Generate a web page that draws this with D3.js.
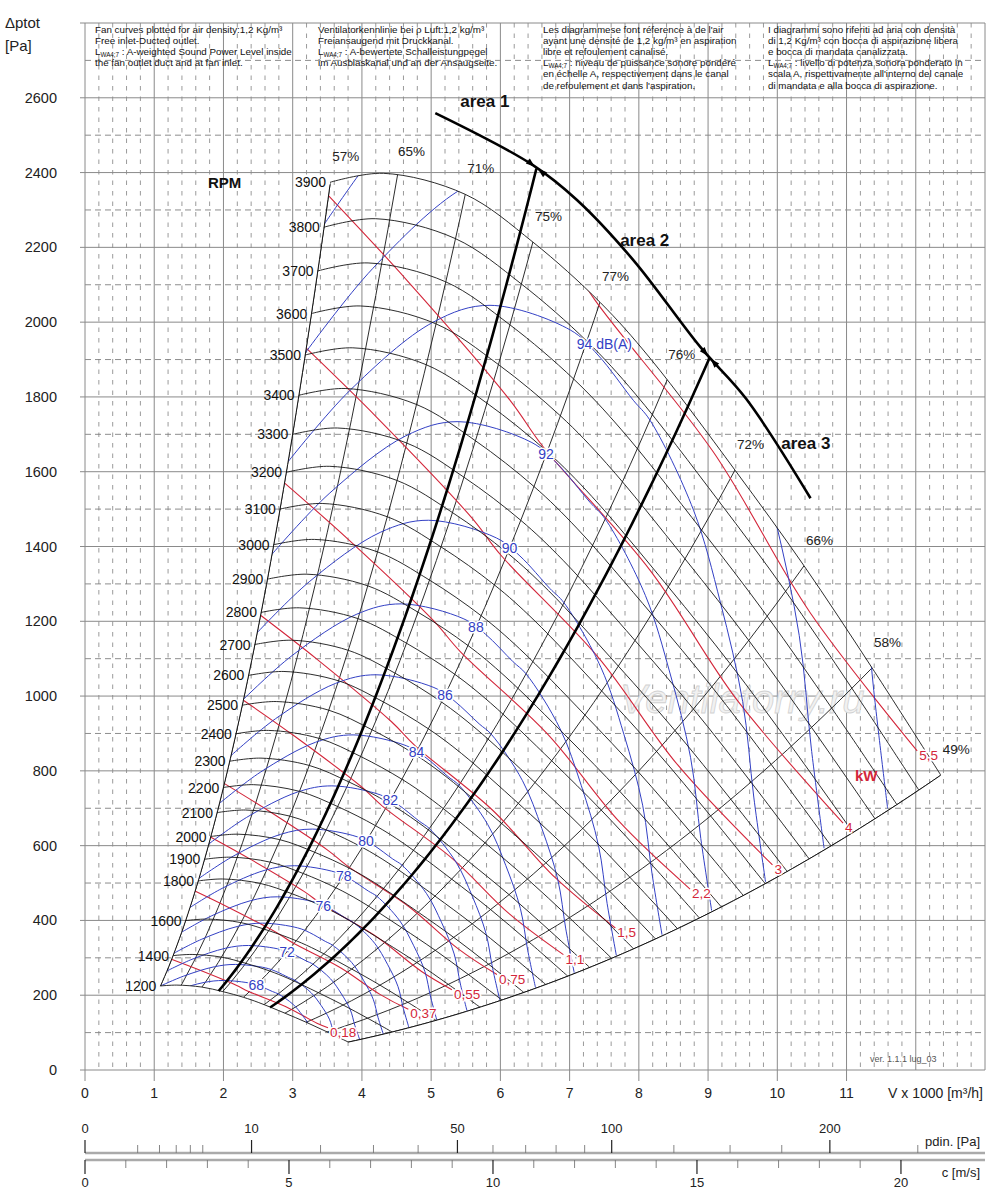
<!DOCTYPE html>
<html>
<head>
<meta charset="utf-8">
<script src="https://cdn.jsdelivr.net/npm/d3@7/dist/d3.min.js"></script>
<style>
  body { margin: 0; background: #fff; }
  svg { display: block; }
  text { font-family: "Liberation Sans", Arial, sans-serif; }
</style>
</head>
<body>
<svg id="chart" width="1000" height="1199"></svg>
<script>
// ---- data ----
// fan speed curves (RPM); the 3900 curve is read point by point, the others follow the fan laws
const rpmList = [1200,1400,1600,1800,1900,2000,2100,2200,2300,2400,2500,2600,2700,2800,2900,3000,3100,3200,3300,3400,3500,3600,3700,3800,3900]
const rpmRef = 3900
const rpmRefCurve = [[3.54,2374],[4.31,2398],[5.49,2342],[6.47,2214],[7.44,2053],[8.16,1904],[9.39,1604],[10.38,1350],[11.37,1075],[12.36,789]]

// efficiency lines (system parabolas p = k * V^2)
const effLabels = ['57%','65%','71%','75%','77%','76%','72%','66%','58%','49%']
const effK = [189,117.4,77.6,52.9,37.1,26.1,18.2,12.5,8.32,5.16]

// sound power level curves dB(A)
const dbLevels = [68,70,72,74,76,78,80,82,84,86,88,90,92,94,96,98]
const dbLabelled = [68,72,76,78,80,82,84,86,88,90,92,94]
const dbRef = 94
const dbRefCurve = [[2.93,1626],[3.83,1818],[5.03,2000],[5.85,2045],[7.01,1979],[7.41,1912],[7.92,1791],[8.16,1738],[8.79,1497],[9.18,1249],[9.5,985],[9.66,730],[9.83,503]]
const dbStep = 1.086   // flow ratio between two curves 2 dB apart

// absorbed power curves kW, with the flow where each drawn line stops
const kwLevels = [0.18,0.37,0.55,0.75,1.1,1.5,2.2,3,4,5.5]
const kwEndV = [3.51,4.67,5.3,5.95,6.91,7.66,8.74,9.93,10.95,12.02]
const kwRef = 4
const kwRefCurve = [[3.51,2340],[4.65,2112],[6.14,1791],[6.62,1666],[8.16,1337],[9.42,989],[10.95,660]]

// working areas
const areaNames = ['area 1','area 2','area 3']
const areaCurve = [[5.06,2559],[6.47,2420],[7.11,2326],[7.92,2166],[8.89,1933],[9.55,1795],[10.48,1529]]
const areaK = [56.7,23.4]

// axes
const xTicks = [0,1,2,3,4,5,6,7,8,9,10,11]
const yTicks = [0,200,400,600,800,1000,1200,1400,1600,1800,2000,2200,2400,2600]
const pdinMajor = [0,10,50,100,200]
const pdinMinor = [1,2,3,4,5,20,30,40,60,70,80,90,125,150,175,250]
const cMajor = [0,5,10,15,20]
const cMinor = [1,2,3,4,6,7,8,9,11,12,13,14,16,17,18,19]

const notes = [
  {x:95, lines:["Fan curves plotted for air density:1,2 Kg/m³","Free inlet-Ducted outlet.","L|WA4;7| : A-weighted Sound Power Level inside","the fan outlet duct and at fan inlet."]},
  {x:318, lines:["Ventilatorkennlinie bei ρ Luft:1,2 kg/m³","Freiansaugend mit Druckkanal.","L|WA4;7| : A-bewertete Schalleistungpegel","im Ausblaskanal und an der Ansaugseite."]},
  {x:543, lines:["Les diagrammese font réference à de l'air","ayant une densité de 1,2 kg/m³ en aspiration","libre et refoulement canalisé.","L|WA4;7| : niveau de puissance sonore pondéré","en échelle A, respectivement dans le canal","de refoulement et dans l'aspiration."]},
  {x:768, lines:["I diagrammi sono riferiti ad aria con densità","di 1,2 Kg/m³ con bocca di aspirazione libera","e bocca di mandata canalizzata.","L|WA4;7| : livello di potenza sonora ponderato in","scala A, rispettivamente all'interno del canale","di mandata e alla bocca di aspirazione."]}
]

// ---- setup ----
const svg = d3.select('#chart')
const x = d3.scaleLinear().domain([0,13]).range([85,985])
const y = d3.scaleLinear().domain([0,2800]).range([1070,23])
const cScale = d3.scaleLinear().domain([0,22.06]).range([85,985])
const pScale = d3.scaleSqrt().domain([0,0.6*22.06*22.06]).range([85,985])

const smooth = d3.line().x(d => x(d[0])).y(d => y(d[1])).curve(d3.curveCatmullRom.alpha(0.5))
const straight = d3.line().x(d => x(d[0])).y(d => y(d[1]))

const BLUE = '#3340c4', RED = '#d3263a', INK = '#151515', GRID = '#8a8a8a'

function scaleCurve(pts, r) { return pts.map(d => [d[0]*r, d[1]*r*r]) }
function parab(k, v0, v1) {
  return d3.range(0, 81).map(i => { const v = v0 + (v1-v0)*i/80; return [v, k*v*v] })
}
function interpAt(pts, v) {
  if (v < pts[0][0] || v > pts[pts.length-1][0]) return null
  for (let i = 0; i < pts.length-1; i++) {
    const a = pts[i], b = pts[i+1]
    if (v >= a[0] && v <= b[0]) return a[1] + (b[1]-a[1])*(v-a[0])/(b[0]-a[0])
  }
  return null
}
function cutAt(pts, v) {
  const kept = pts.filter(d => d[0] < v)
  const p = interpAt(pts, v)
  if (p !== null) kept.push([v, p])
  return kept
}
function crossK(pts, k) {
  let best = pts[0], bestF = Infinity
  for (let i = 0; i < pts.length-1; i++) {
    const a = pts[i], b = pts[i+1]
    const fa = a[1]-k*a[0]*a[0], fb = b[1]-k*b[0]*b[0]
    if (Math.abs(fa) < bestF) { bestF = Math.abs(fa); best = a }
    if (fa*fb < 0) {
      const t = fa/(fa-fb)
      return [a[0]+t*(b[0]-a[0]), a[1]+t*(b[1]-a[1])]
    }
  }
  const l = pts[pts.length-1]
  if (Math.abs(l[1]-k*l[0]*l[0]) < bestF) best = l
  return best
}

const cTop = scaleCurve(rpmRefCurve, 1)
const cLow = scaleCurve(rpmRefCurve, rpmList[0]/rpmRef)
const kLeft = effK[0], kBottom = effK[effK.length-1]

function inside(v, p) {
  if (p > kLeft*v*v || p < kBottom*v*v) return false
  const t = interpAt(cTop, v)
  if (t === null) { if (v > cTop[cTop.length-1][0]) return false } else if (p > t) return false
  const b = interpAt(cLow, v)
  if (b === null) { if (v < cLow[0][0]) return false } else if (p < b) return false
  return true
}

// ---- clip paths for the fan envelope ----
const defs = svg.append('defs')
const wedge = parab(kLeft, 0, 4.2).concat(parab(kBottom, 0, 24).reverse())
defs.append('clipPath').attr('id','cWedge').append('path').attr('d', straight(wedge) + 'Z')
const tl = cTop[0], tr = cTop[cTop.length-1]
defs.append('clipPath').attr('id','cTop').append('path')
  .attr('d', `M${x(0)},${y(0)}L${x(0)},${y(tl[1])}L` + smooth(cTop).slice(1) + `L${x(tr[0])},${y(0)}Z`)
const ll = cLow[0], lr = cLow[cLow.length-1]
defs.append('clipPath').attr('id','cLow').append('path')
  .attr('d', smooth(cLow) + `L${x(lr[0])},${y(-200)}L${x(30)},${y(-200)}L${x(30)},${y(4000)}L${x(ll[0])},${y(4000)}Z`)

// ---- grid ----
const grid = svg.append('g')
grid.selectAll('line.vmin').data(d3.range(1, 65).filter(i => i % 5)).join('line')
  .attr('x1', i => x(i/5)).attr('x2', i => x(i/5)).attr('y1', y(2800)).attr('y2', y(0))
  .attr('stroke', '#8e8e8e').attr('stroke-width', 0.9).attr('stroke-dasharray', '4.5,6')
grid.selectAll('line.hmin').data(d3.range(100, 2800, 200)).join('line')
  .attr('x1', x(0)).attr('x2', x(13)).attr('y1', d => y(d)).attr('y2', d => y(d))
  .attr('stroke', '#808080').attr('stroke-width', 0.9).attr('stroke-dasharray', '6,4')
grid.selectAll('line.hmaj').data(d3.range(0, 2801, 200)).join('line')
  .attr('x1', x(0)-5).attr('x2', x(13)).attr('y1', d => y(d)).attr('y2', d => y(d))
  .attr('stroke', GRID).attr('stroke-width', 1)
grid.selectAll('line.vmaj').data(d3.range(0, 14)).join('line')
  .attr('x1', d => x(d)).attr('x2', d => x(d)).attr('y1', y(2800)).attr('y2', y(0))
  .attr('stroke', GRID).attr('stroke-width', 1)
grid.selectAll('line.xt').data(xTicks).join('line')
  .attr('x1', d => x(d)).attr('x2', d => x(d)).attr('y1', y(0)).attr('y2', y(0)+11)
  .attr('stroke', GRID).attr('stroke-width', 1)

// header notes
notes.forEach(n => {
  n.lines.forEach((s, i) => {
    const t = svg.append('text').attr('x', n.x).attr('y', 33 + i*11.1)
      .attr('font-size', 9.8).attr('fill', '#111')
    const parts = s.split('|')
    if (parts.length === 3) {
      t.append('tspan').text(parts[0])
      t.append('tspan').attr('font-size', 6.3).attr('dy', 1.5).text(parts[1])
      t.append('tspan').attr('dy', -1.5).text(parts[2])
    } else t.text(s)
  })
})

// watermark
svg.append('text').attr('x', 620).attr('y', 713).attr('font-size', 40).attr('font-style', 'italic')
  .attr('fill', '#f1f1f1').attr('stroke', '#d2d2d2').attr('stroke-width', 0.8)
  .text('Ventilatorry.ru')

// ---- clipped families ----
const g1 = svg.append('g').attr('clip-path', 'url(#cWedge)')
const g2 = g1.append('g').attr('clip-path', 'url(#cTop)')
const inner = g2.append('g').attr('clip-path', 'url(#cLow)')

inner.selectAll('path.eff').data(effK).join('path')
  .attr('d', k => straight(parab(k, 0, 14)))
  .attr('fill', 'none').attr('stroke', INK).attr('stroke-width', 0.9)

const kwCurves = kwLevels.map((P, i) => cutAt(scaleCurve(kwRefCurve, Math.cbrt(P/kwRef)), kwEndV[i]))
inner.selectAll('path.kw').data(kwCurves).join('path')
  .attr('d', smooth).attr('fill', 'none').attr('stroke', RED).attr('stroke-width', 1.1)

const dbCurves = dbLevels.map(L => scaleCurve(dbRefCurve, Math.pow(dbStep, (L-dbRef)/2)))
inner.selectAll('path.db').data(dbCurves).join('path')
  .attr('d', smooth).attr('fill', 'none').attr('stroke', BLUE).attr('stroke-width', 1)

// ---- RPM curves and envelope ----
const rpmCurves = rpmList.map(n => scaleCurve(rpmRefCurve, n/rpmRef))
svg.append('g').selectAll('path').data(rpmCurves).join('path')
  .attr('d', smooth).attr('fill', 'none').attr('stroke', INK).attr('stroke-width', 0.9)
svg.append('path').attr('d', straight(parab(kLeft, ll[0], tl[0])))
  .attr('fill', 'none').attr('stroke', INK).attr('stroke-width', 1)
svg.append('path').attr('d', straight(parab(kBottom, lr[0], tr[0])))
  .attr('fill', 'none').attr('stroke', INK).attr('stroke-width', 1)

// ---- working areas ----
areaK.forEach(k => {
  const a = crossK(cLow, k), b = crossK(areaCurve, k)
  svg.append('path').attr('d', straight(parab(k, a[0], b[0])))
    .attr('fill', 'none').attr('stroke', '#000').attr('stroke-width', 2.6)
  // arrow heads on the area curve
  const i = areaCurve.findIndex(d => d[0] > b[0])
  const p0 = areaCurve[i-1], p1 = areaCurve[i]
  let dx = x(p1[0]) - x(p0[0]), dy = y(p1[1]) - y(p0[1])
  const len = Math.hypot(dx, dy); dx /= len; dy /= len
  const bx = x(b[0]), by = y(b[1])
  ;[-1, 1].forEach(s => {
    const cx = bx + s*11*dx, cy = by + s*11*dy
    svg.append('path')
      .attr('d', `M${bx + s*2*dx},${by + s*2*dy}L${cx - 3.2*dy},${cy + 3.2*dx}L${cx + 3.2*dy},${cy - 3.2*dx}Z`)
      .attr('fill', '#000')
  })
})
svg.append('path').attr('d', smooth(areaCurve))
  .attr('fill', 'none').attr('stroke', '#000').attr('stroke-width', 2.6)

const areaLabelAt = [[areaCurve[0][0], 25, -6], [7.6, 9, 10], [10.0, 4, 2]]
areaNames.forEach((s, i) => {
  const v = areaLabelAt[i][0], p = interpAt(areaCurve, v)
  svg.append('text').attr('x', x(v) + areaLabelAt[i][1]).attr('y', y(p) + areaLabelAt[i][2])
    .attr('font-size', 17).attr('font-weight', 'bold').attr('fill', '#111').text(s)
})

// ---- labels ----
function halo(sel) { return sel.attr('stroke', '#fff').attr('stroke-width', 3.2).attr('paint-order', 'stroke').attr('stroke-linejoin', 'round') }

// RPM
rpmCurves.forEach((c, i) => {
  svg.append('text').attr('x', x(c[0][0]) - 4).attr('y', y(c[0][1]) + 5)
    .attr('text-anchor', 'end').attr('font-size', 14).attr('fill', '#111').text(rpmList[i])
})
svg.append('text').attr('x', 208).attr('y', 188).attr('font-size', 15).attr('font-weight', 'bold').attr('fill', '#111').text('RPM')

// efficiency
effK.forEach((k, i) => {
  const t = crossK(cTop, k)
  svg.append('text').attr('x', x(t[0]) + 2).attr('y', y(t[1]) - 21)
    .attr('font-size', 13.5).attr('fill', '#222').text(effLabels[i])
})

// dB(A) on the 77% line
const kLab = effK[effLabels.indexOf('77%')]
dbLevels.forEach((L, i) => {
  if (!dbLabelled.includes(L)) return
  const t = crossK(dbCurves[i], kLab)
  const txt = halo(svg.append('text')).attr('y', y(t[1]) + 5)
    .attr('font-size', 14).attr('fill', BLUE)
  if (L === dbRef) txt.attr('x', x(t[0]) - 9).text(L + ' dB(A)')
  else txt.attr('x', x(t[0])).attr('text-anchor', 'middle').text(L)
})

// kW at the end of each visible power curve
kwCurves.forEach((c, i) => {
  let last = null
  for (let s = 0; s < c.length-1; s++) {
    for (let j = 0; j <= 40; j++) {
      const v = c[s][0] + (c[s+1][0]-c[s][0])*j/40, p = c[s][1] + (c[s+1][1]-c[s][1])*j/40
      if (inside(v, p)) last = [v, p]
    }
  }
  if (!last) return
  halo(svg.append('text')).attr('x', x(last[0]) + 2).attr('y', y(last[1]) + 9)
    .attr('font-size', 13.5).attr('fill', RED).text(String(kwLevels[i]).replace('.', ','))
})
svg.append('text').attr('x', 855).attr('y', 781).attr('font-size', 15).attr('font-weight', 'bold').attr('fill', RED).text('kW')

// ---- axes ----
svg.append('text').attr('x', 5).attr('y', 28).attr('font-size', 15).attr('fill', '#222').text('Δptot')
svg.append('text').attr('x', 5).attr('y', 51).attr('font-size', 15).attr('fill', '#222').text('[Pa]')
svg.selectAll('text.yl').data(yTicks).join('text')
  .attr('x', 57).attr('y', d => y(d) + 5).attr('text-anchor', 'end')
  .attr('font-size', 14.5).attr('fill', '#222').text(d => d)
svg.selectAll('text.xl').data(xTicks).join('text')
  .attr('x', d => x(d)).attr('y', 1098).attr('text-anchor', 'middle')
  .attr('font-size', 14).attr('fill', '#222').text(d => d)
svg.append('text').attr('x', 983).attr('y', 1098).attr('text-anchor', 'end')
  .attr('font-size', 14).attr('fill', '#222').text('V x 1000 [m³/h]')
svg.append('text').attr('x', 870).attr('y', 1062).attr('font-size', 9).attr('fill', '#555').text('ver. 1.1.1 lug_03')

// dynamic pressure
svg.append('line').attr('x1', 85).attr('x2', 985).attr('y1', 1153).attr('y2', 1153)
  .attr('stroke', '#aaa').attr('stroke-width', 2.6)
svg.selectAll('line.pmaj').data(pdinMajor).join('line')
  .attr('x1', d => pScale(d)).attr('x2', d => pScale(d)).attr('y1', 1140).attr('y2', 1153)
  .attr('stroke', '#222').attr('stroke-width', 1.2)
svg.selectAll('line.pmin').data(pdinMinor).join('line')
  .attr('x1', d => pScale(d)).attr('x2', d => pScale(d)).attr('y1', 1145).attr('y2', 1153)
  .attr('stroke', '#777').attr('stroke-width', 0.9)
svg.selectAll('text.pl').data(pdinMajor).join('text')
  .attr('x', d => pScale(d)).attr('y', 1133).attr('text-anchor', 'middle')
  .attr('font-size', 13).attr('fill', '#222').text(d => d)
svg.append('text').attr('x', 980).attr('y', 1146).attr('text-anchor', 'end')
  .attr('font-size', 13).attr('fill', '#222').text('pdin. [Pa]')

// outlet velocity
svg.append('line').attr('x1', 85).attr('x2', 985).attr('y1', 1160).attr('y2', 1160)
  .attr('stroke', '#aaa').attr('stroke-width', 2.6)
svg.selectAll('line.cmaj').data(cMajor).join('line')
  .attr('x1', d => cScale(d)).attr('x2', d => cScale(d)).attr('y1', 1160).attr('y2', 1174)
  .attr('stroke', '#222').attr('stroke-width', 1.2)
svg.selectAll('line.cmin').data(cMinor).join('line')
  .attr('x1', d => cScale(d)).attr('x2', d => cScale(d)).attr('y1', 1160).attr('y2', 1168)
  .attr('stroke', '#777').attr('stroke-width', 0.9)
svg.selectAll('text.cl').data(cMajor).join('text')
  .attr('x', d => cScale(d)).attr('y', 1187).attr('text-anchor', 'middle')
  .attr('font-size', 13).attr('fill', '#222').text(d => d)
svg.append('text').attr('x', 980).attr('y', 1177).attr('text-anchor', 'end')
  .attr('font-size', 13).attr('fill', '#222').text('c [m/s]')
</script>
</body>
</html>
